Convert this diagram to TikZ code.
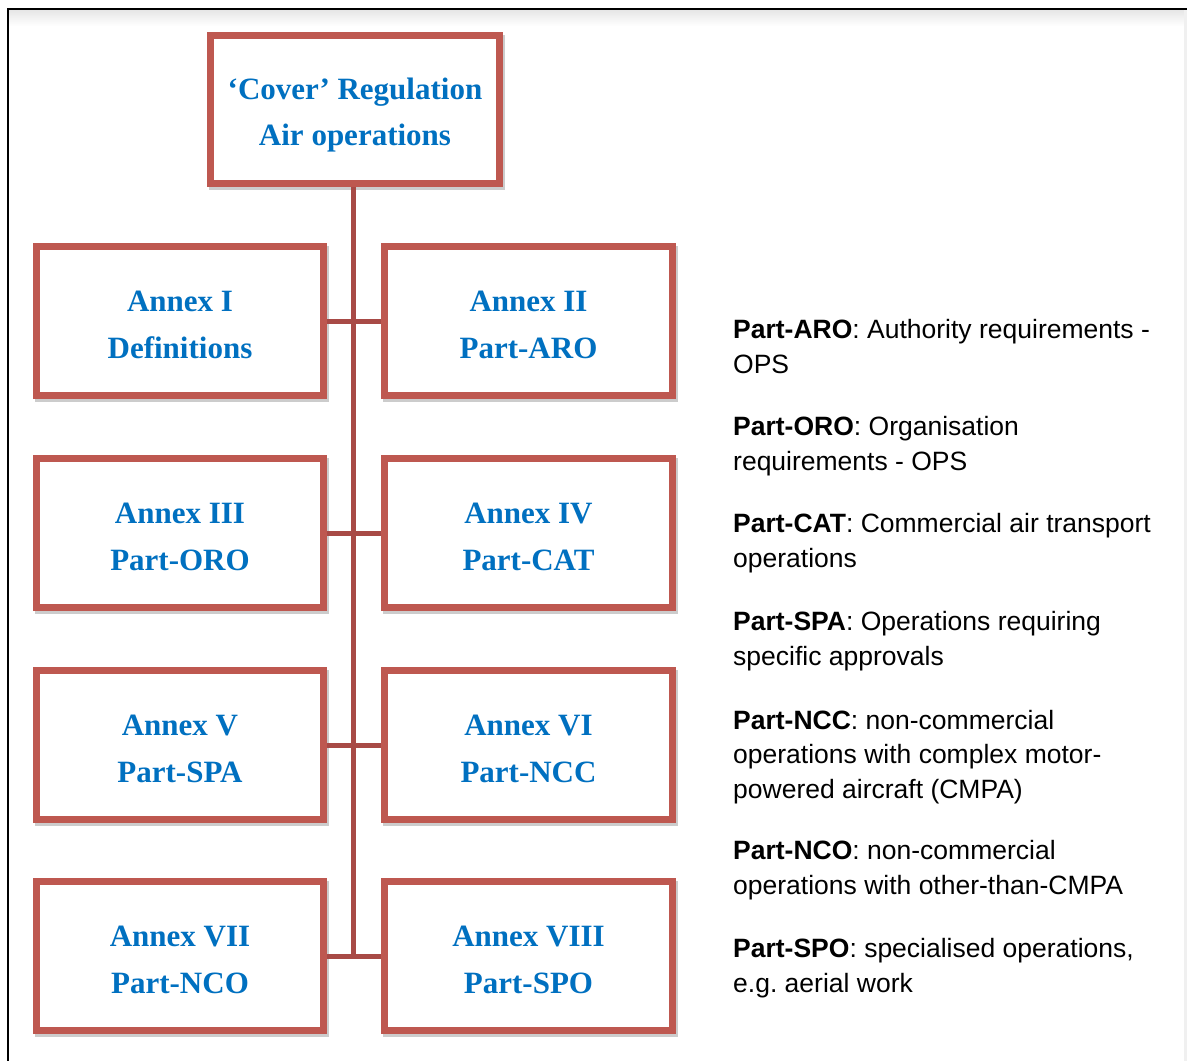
\documentclass[tikz,border=0pt]{standalone}
\usepackage{fontspec}
\setmainfont{Liberation Sans}
\newfontfamily\boxfont{Liberation Serif}
\usetikzlibrary{shadows}
\definecolor{boxred}{RGB}{190,88,80}
\definecolor{linkred}{RGB}{168,74,70}
\definecolor{annexblue}{RGB}{0,112,192}
\frenchspacing
\begin{document}
\begin{tikzpicture}[x=1pt,y=-1pt,
  annexbox/.style={draw=boxred, line width=7pt, fill=white, rectangle, inner sep=0pt,
     minimum width=287pt, minimum height=149pt, align=center,
     text height=75pt, text depth=0pt,
     font=\boxfont\bfseries\fontsize{31}{47}\selectfont, text=annexblue,
     drop shadow={shadow xshift=1.5pt, shadow yshift=-3pt, fill=black, draw=black, line width=7pt, opacity=0.2}},
  link/.style={draw=linkred, line width=5pt},
  desc/.style={anchor=base west, align=left, inner sep=0pt, font=\fontsize{26.5}{34.5}\selectfont}]
\useasboundingbox (0,0) rectangle (1187,1061);
% page frame
\shade[top color=black!10, bottom color=white] (8.5,9.5) rectangle (1187,26);
\fill[black!6] (1184,10) rectangle (1187,1061);
\draw[black, line width=2pt] (7.5,1061) -- (7.5,8.5) -- (1187,8.5);
% boxes
\node[annexbox, minimum width=289pt, minimum height=148pt, text height=71pt, font=\boxfont\bfseries\fontsize{31}{46}\selectfont] (cover) at (355,109.5) {‘Cover’ Regulation\\Air operations};
\node[annexbox] (a1) at (180,321) {Annex I\\Definitions};
\node[annexbox, minimum width=288pt] (a2) at (528.5,321) {Annex II\\Part-ARO};
\node[annexbox] (a3) at (180,533) {Annex III\\Part-ORO};
\node[annexbox, minimum width=288pt] (a4) at (528.5,533) {Annex IV\\Part-CAT};
\node[annexbox] (a5) at (180,745) {Annex V\\Part-SPA};
\node[annexbox, minimum width=288pt] (a6) at (528.5,745) {Annex VI\\Part-NCC};
\node[annexbox] (a7) at (180,956) {Annex VII\\Part-NCO};
\node[annexbox, minimum width=288pt] (a8) at (528.5,956) {Annex VIII\\Part-SPO};
% connectors
\coordinate (spine) at (353.5,956);
\draw[link] (cover.south -| spine) -- (spine);
\draw[link] (a1.east) -- (a2.west);
\draw[link] (a3.east) -- (a4.west);
\draw[link] (a5.east) -- (a6.west);
\draw[link] (a7.east) -- (a8.west);
% descriptions (anchored at the baseline of their last line)
\node[desc] (dARO) at (733,373) {\textbf{Part-ARO}: Authority requirements -\\OPS};
\node[desc] (dORO) at (733,470) {\textbf{Part-ORO}: Organisation\\requirements - OPS};
\node[desc] (dCAT) at (733,567) {\textbf{Part-CAT}: Commercial air transport\\operations};
\node[desc] (dSPA) at (733,665) {\textbf{Part-SPA}: Operations requiring\\specific approvals};
\node[desc] (dNCC) at (733,798) {\textbf{Part-NCC}: non-commercial\\operations with complex motor-\\powered aircraft (CMPA)};
\node[desc] (dNCO) at (733,894) {\textbf{Part-NCO}: non-commercial\\operations with other-than-CMPA};
\node[desc] (dSPO) at (733,992) {\textbf{Part-SPO}: specialised operations,\\e.g.\ aerial work};
\end{tikzpicture}
\end{document}
